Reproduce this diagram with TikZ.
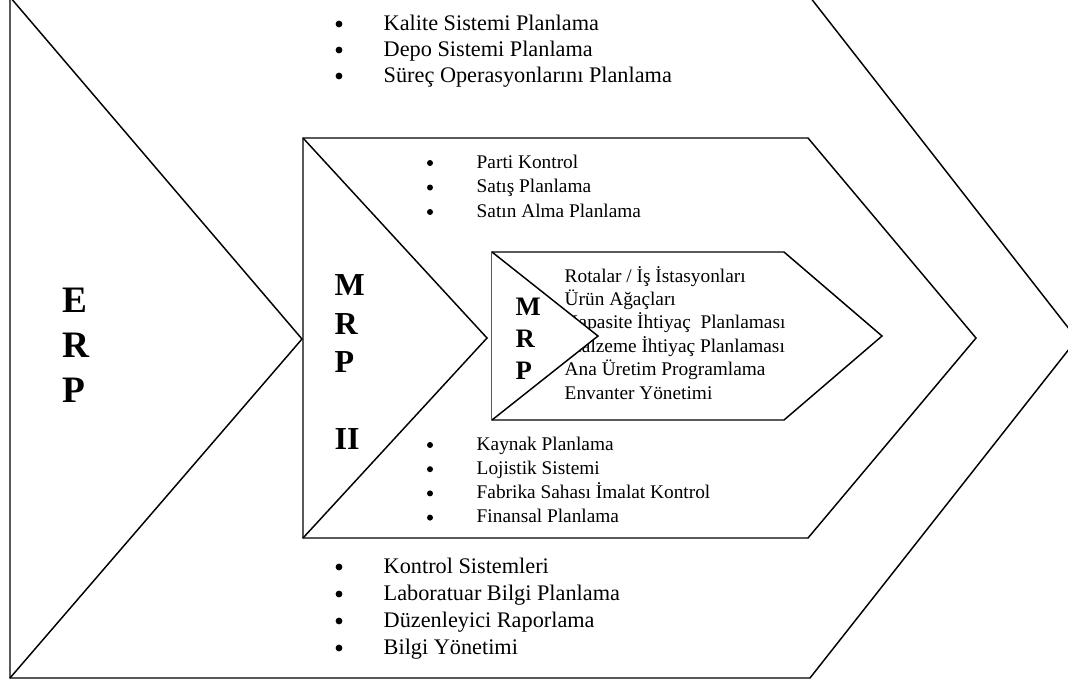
\documentclass[tikz,border=0pt]{standalone}
\usepackage{fontspec}
\setmainfont{Liberation Serif}
\begin{document}
\begin{tikzpicture}[x=0.75pt,y=-0.75pt,line width=1.1pt,line join=miter,
  frame/.style={draw=black,fill=white},
  biglist/.style={anchor=base west,inner sep=0pt,font=\fontsize{16.7}{20}\selectfont},
  midlist/.style={anchor=base west,inner sep=0pt,font=\fontsize{14.5}{17}\selectfont},
  bigletter/.style={anchor=base west,inner sep=0pt,font=\fontsize{28}{34}\selectfont\bfseries},
  midletter/.style={anchor=base west,inner sep=0pt,font=\fontsize{24}{29}\selectfont\bfseries},
  smallletter/.style={anchor=base west,inner sep=0pt,font=\fontsize{20}{24}\selectfont\bfseries}]
\useasboundingbox (0,0) rectangle (1068,683);
\clip (0,0) rectangle (1068,683);

% ERP chevron and its left triangle
\draw[frame] (10,-3) -- (810,-3) -- (1077,339) -- (810,678) -- (10,678) -- cycle;
\draw (10,-3) -- (302,339) -- (10,678);

% ERP level items
\foreach \t [count=\i] in {Kalite Sistemi Planlama,Depo Sistemi Planlama,Süreç Operasyonlarını Planlama}{
  \fill (339,{30+26*(\i-1)-6}) circle[radius=3.4];
  \node[biglist] (erptop\i) at (383,{30+26*(\i-1)}) {\t};
}
\foreach \t [count=\i] in {Kontrol Sistemleri,Laboratuar Bilgi Planlama,Düzenleyici Raporlama,Bilgi Yönetimi}{
  \fill (339,{573+27*(\i-1)-6}) circle[radius=3.4];
  \node[biglist] (erpbot\i) at (383,{573+27*(\i-1)}) {\t};
}

% MRP II chevron
\draw[frame] (303,138) -- (808,138) -- (976,338) -- (808,538) -- (303,538) -- cycle;
\draw (303,138) -- (487,338) -- (303,538);

\foreach \t [count=\i] in {Parti Kontrol,Satış Planlama,Satın Alma Planlama}{
  \fill (430,{168+24.5*(\i-1)-5}) circle[radius=3];
  \node[midlist] (mrptop\i) at (476,{168+24.5*(\i-1)}) {\t};
}
\foreach \t [count=\i] in {Kaynak Planlama,Lojistik Sistemi,Fabrika Sahası İmalat Kontrol,Finansal Planlama}{
  \fill (430,{450+24.2*(\i-1)-5}) circle[radius=3];
  \node[midlist] (mrpbot\i) at (476,{450+24.2*(\i-1)}) {\t};
}

% MRP chevron
\draw[frame] (492,252) -- (784,252) -- (882,336) -- (784,420) -- (492,420) -- cycle;
\foreach \t [count=\i] in {Rotalar / İş İstasyonları,Ürün Ağaçları,Kapasite İhtiyaç\ \ Planlaması,Malzeme İhtiyaç Planlaması,Ana Üretim Programlama,Envanter Yönetimi}{
  \node[midlist] (mrpitem\i) at (564,{282+23.4*(\i-1)}) {\t};
}
\draw[frame] (492,252) -- (598,336) -- (492,420);

% level labels
\node[bigletter] (erpE) at (62,312) {E};
\node[bigletter] (erpR) at (62,357) {R};
\node[bigletter] (erpP) at (62,402) {P};

\node[midletter] (m2M) at (334,295) {M};
\node[midletter] (m2R) at (334,334) {R};
\node[midletter] (m2P) at (334,372) {P};
\node[midletter] (m2I) at (334,449) {II};

\node[smallletter] (m1M) at (515,315) {M};
\node[smallletter] (m1R) at (515,347) {R};
\node[smallletter] (m1P) at (515,379) {P};
\end{tikzpicture}
\end{document}
